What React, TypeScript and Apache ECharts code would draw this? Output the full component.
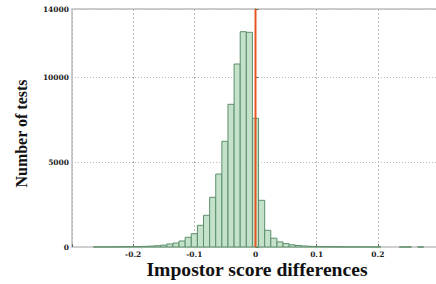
import React, { useEffect, useRef } from "react";
import * as echarts from "echarts";

const binCenters = [
  -0.26, -0.25, -0.24, -0.23, -0.22, -0.21, -0.2, -0.19, -0.18, -0.17, -0.16, -0.15, -0.14, -0.13,
  -0.12, -0.11, -0.1, -0.09, -0.08, -0.07, -0.06, -0.05, -0.04, -0.03, -0.02, -0.01, 0, 0.01, 0.02,
  0.03, 0.04, 0.05, 0.06, 0.07, 0.08, 0.09, 0.1, 0.11, 0.12, 0.13, 0.14, 0.15, 0.16, 0.17, 0.18,
  0.19, 0.2, 0.21, 0.22, 0.23, 0.24, 0.25, 0.26, 0.27,
];
const counts = [
  5, 8, 10, 12, 15, 20, 25, 30, 40, 55, 75, 110, 176, 235,
  353, 571, 782, 1276, 1865, 2923, 4294, 6217, 8394, 10764, 12665, 12629, 7570, 2747, 982,
  520, 300, 200, 130, 90, 60, 40, 30, 25, 20, 15, 12, 10, 8, 6, 5,
  4, 3, 0, 0, 0, 2, 1, 0, 1,
];
const binWidth = 0.01;
const xTicks = ["-0.2", "-0.1", "0", "0.1", "0.2"];
const yTicks = ["0", "5000", "10000", "14000"];
const xLabel = "Impostor score differences";
const yLabel = "Number of tests";
const markerX = 0;

export default function App() {
  const ref = useRef<HTMLDivElement>(null);
  useEffect(() => {
    if (!ref.current) return;
    const chart = echarts.init(ref.current, null, { renderer: "svg" });
    const tickFont = {
      fontFamily: "DejaVu Serif",
      fontWeight: "bold" as const,
      fontSize: 7.5,
      color: "#222",
    };
    chart.setOption({
      animation: false,
      backgroundColor: "#fff",
      grid: {
        left: 72,
        right: 0,
        top: 9,
        bottom: 37,
        show: true,
        borderColor: "#bdbdbd",
        borderWidth: 1.5,
      },
      xAxis: {
        type: "value",
        min: -0.3,
        max: 0.3,
        interval: 0.1,
        axisLine: { show: true, onZero: false, lineStyle: { color: "#cfcfcf", width: 2 } },
        axisTick: { show: true, inside: true, length: 3, lineStyle: { color: "#666" } },
        axisLabel: {
          ...tickFont,
          margin: 3,
          formatter: (v: number) => {
            const s = String(Math.round(v * 10) / 10);
            return xTicks.includes(s) ? s : "";
          },
        },
        splitLine: { show: true, lineStyle: { color: "#bbb", type: [2, 2], width: 1 } },
      },
      yAxis: {
        type: "value",
        min: 0,
        max: 14000,
        interval: 5000,
        axisLine: { show: true, lineStyle: { color: "#555", width: 1 } },
        axisTick: { show: true, inside: true, length: 3, lineStyle: { color: "#666" } },
        axisLabel: {
          ...tickFont,
          margin: 3,
          formatter: (v: number) => (yTicks.includes(String(v)) ? String(v) : ""),
        },
        splitLine: { show: true, lineStyle: { color: "#bbb", type: [1, 2], width: 1 } },
      },
      graphic: [
        {
          type: "text",
          x: 21,
          y: 133.5,
          rotation: Math.PI / 2,
          style: {
            text: yLabel,
            font: "bold 16px 'Liberation Serif'",
            fill: "#111",
            textAlign: "center",
            textVerticalAlign: "middle",
            align: "center",
            verticalAlign: "middle",
          },
        },
        {
          type: "text",
          x: 257,
          y: 270,
          scaleX: 1.09,
          style: {
            text: xLabel,
            font: "bold 18px 'Liberation Serif'",
            fill: "#111",
            textAlign: "center",
            textVerticalAlign: "middle",
            align: "center",
            verticalAlign: "middle",
          },
        },
      ],
      series: [
        {
          type: "custom",
          data: binCenters.map((c, i) => [c, counts[i]]),
          encode: { x: 0, y: 1 },
          renderItem: (params: any, api: any) => {
            const c = api.value(0);
            const v = api.value(1);
            if (!v) return null;
            const p0 = api.coord([c - binWidth / 2, 0]);
            const p1 = api.coord([c + binWidth / 2, v]);
            return {
              type: "rect",
              shape: { x: p0[0], y: p1[1], width: p1[0] - p0[0], height: p0[1] - p1[1] },
              style: { fill: "#c4e1ca", stroke: "#5b8f6b", lineWidth: 1 },
            };
          },
          z: 3,
        },
        {
          type: "line",
          data: [
            [markerX, 0],
            [markerX, 14000],
          ],
          showSymbol: false,
          lineStyle: { color: "#e4561f", width: 2 },
          z: 5,
        },
      ],
    });
    return () => chart.dispose();
  }, []);
  return (
    <div style={{ position: "fixed", left: 0, top: 0, width: 436, height: 284, overflow: "hidden", background: "#fff" }}>
      <div ref={ref} style={{ width: 442, height: 284 }} />
    </div>
  );
}
